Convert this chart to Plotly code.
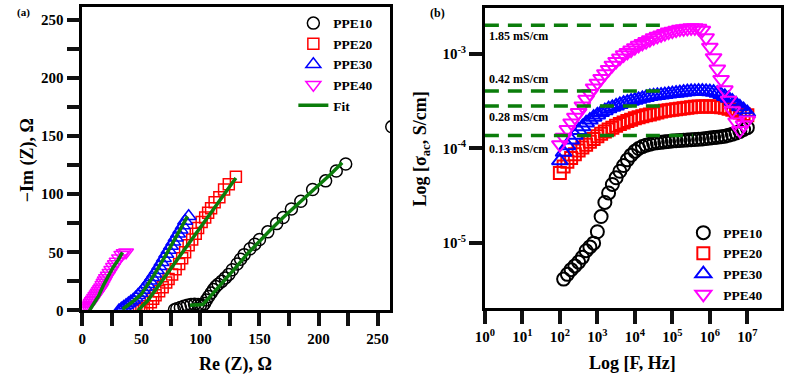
import plotly.graph_objects as go

# ---------------- Panel (a): Nyquist data (Re Z, -Im Z in ohm) ----------------
ppe10_re = [78, 80, 83, 86, 89, 92, 95, 98, 100, 102, 103.5, 105, 107, 109, 111, 113, 115, 118, 121, 124,
            127, 131, 134, 137, 142, 146, 150, 157, 164.5, 170, 177, 185, 195, 206, 215, 223, 262]
ppe10_im = [0.5, 1.5, 2.5, 3.5, 4.5, 5, 5.2, 5, 4.5, 4, 6, 9, 12, 15, 18, 20.5, 22.5, 25, 28, 31,
            35, 40, 44, 48, 53, 57, 61, 67.6, 74.7, 80, 87.3, 94, 104, 111.5, 120, 126, 158]

ppe20_re = [48, 50, 52, 55, 58, 60, 62, 65, 68, 71, 73, 76, 79, 82, 84.5, 87, 90, 93, 96, 98,
            101, 104, 106.5, 109, 112, 116, 120, 124, 130]
ppe20_im = [0, 1, 2, 3.5, 7, 10, 13, 16.5, 20, 24, 27, 31, 35.5, 40, 45, 50, 56, 61, 66, 71,
            76, 80, 84, 88, 93, 97.5, 104, 108.5, 115]

ppe30_re = [31, 33, 35, 37, 39, 41, 43, 45, 47, 49, 51, 53, 55, 57, 59, 61, 63, 65, 67, 69,
            71, 73, 75, 77, 79, 81, 83, 85, 87, 90]
ppe30_im = [0, 1.5, 3, 4.5, 6, 7.5, 9, 11, 13, 15, 17.5, 20, 22.5, 25.5, 28.5, 31.5, 34.5, 38, 41.5, 45,
            48.5, 52, 55.5, 59, 62.5, 66, 69.5, 73, 77, 81]

ppe40_re = [1, 2, 3, 4, 5, 6, 7, 8, 9, 10, 11, 12, 13, 14, 15, 16, 17, 18, 19, 20,
            21.5, 23, 24.5, 26, 27.5, 29, 31, 33, 35, 37]
ppe40_im = [0, 1, 2, 3, 4, 5, 6.5, 8, 9.5, 11, 12.5, 14, 15.5, 17, 18.5, 20, 22, 24, 26, 28,
            30, 32.5, 35, 37.5, 40, 42, 45, 48, 49.5, 50]

fit10_re = [91, 99, 102, 110, 120, 130, 140, 150, 160, 170, 180, 190, 200, 210, 220]
fit10_im = [4.5, 4.5, 5, 14, 25, 37, 49, 60, 70, 80, 89, 99, 108, 117, 127]
fit20_re = [47, 55, 65, 75, 85, 95, 106, 118, 130]
fit20_im = [0, 8, 22, 36, 51, 65, 80, 97, 114]
fit30_re = [34, 42, 50, 61, 72, 81, 89]
fit30_im = [1, 7, 14, 31, 50, 67, 81]
fit40_re = [6, 10, 14, 18, 22, 26, 30, 34]
fit40_im = [0, 6, 13, 22, 30, 37, 43, 50]

# ---------------- Panel (b): AC conductivity vs frequency ----------------
freq_hz = [100, 125.9, 158.5, 199.5, 251.2, 316.2, 398.1, 501.2, 631.0, 794.3,
           1000, 1259, 1585, 1995, 2512, 3162, 3981, 5012, 6310, 7943,
           1.0e4, 1.2589e4, 1.5849e4, 1.9953e4, 2.5119e4, 3.1623e4, 3.9811e4, 5.0119e4, 6.3096e4, 7.9433e4,
           1.0e5, 1.259e5, 1.585e5, 1.995e5, 2.512e5, 3.162e5, 3.981e5, 5.012e5, 6.310e5, 7.943e5,
           1.0e6, 1.259e6, 1.585e6, 1.995e6, 2.512e6, 3.162e6, 3.981e6, 5.012e6, 6.310e6, 7.943e6, 1.0e7]

# conductivities in units of 1e-4 S/cm
sig10_e4 = [0.0417, 0.0468, 0.0525, 0.0575, 0.0631, 0.0708, 0.0832, 0.0912, 0.100,
            0.132, 0.191, 0.269, 0.339, 0.417, 0.490, 0.575, 0.661, 0.759, 0.851,
            0.933, 1.000, 1.047, 1.084, 1.109, 1.135, 1.148, 1.161, 1.175, 1.189,
            1.202, 1.208, 1.216, 1.222, 1.230, 1.237, 1.245, 1.252, 1.259, 1.274,
            1.288, 1.303, 1.318, 1.334, 1.349, 1.380, 1.413, 1.462, 1.514, 1.585, 1.660]
sig20_e4 = [0.550, 0.646, 0.724, 0.794, 0.871, 0.955, 1.023, 1.096, 1.175, 1.259,
            1.349, 1.429, 1.514, 1.585, 1.660, 1.738, 1.820, 1.884, 1.950, 2.018,
            2.089, 2.138, 2.188, 2.239, 2.291, 2.344, 2.399, 2.455, 2.512, 2.541,
            2.570, 2.600, 2.630, 2.661, 2.692, 2.723, 2.754, 2.770, 2.780, 2.786,
            2.786, 2.780, 2.754, 2.723, 2.692, 2.630, 2.570, 2.483, 2.399, 2.317, 2.239]
sig30_e4 = [0.741, 0.912, 1.072, 1.230, 1.380, 1.549, 1.698, 1.862, 1.995, 2.138,
            2.265, 2.399, 2.512, 2.630, 2.723, 2.818, 2.917, 3.020, 3.090, 3.162,
            3.236, 3.311, 3.388, 3.467, 3.548, 3.589, 3.631, 3.673, 3.715, 3.758,
            3.802, 3.846, 3.890, 3.936, 3.981, 4.000, 4.020, 4.030, 4.030, 4.020,
            3.981, 3.936, 3.846, 3.715, 3.548, 3.388, 3.162, 2.951, 2.754, 2.570, 2.399]
sig40_e4 = [1.096, 1.318, 1.585, 1.862, 2.138, 2.399, 2.818, 3.311, 3.802, 4.365,
            4.898, 5.495, 6.166, 6.839, 7.586, 8.318, 9.016, 9.772, 10.35, 10.96,
            11.61, 12.30, 12.88, 13.49, 14.13, 14.79, 15.31, 15.85, 16.41, 16.98,
            17.38, 17.78, 18.20, 18.41, 18.62, 18.84, 18.84, 18.62, 17.78, 14.79,
            11.75, 9.12, 6.918, 5.370, 4.169, 3.236, 2.512, 1.905, 1.549, 1.778, 1.995]

# reference conductivity levels (S/cm), labels and where their dashed guide ends (Hz)
level_vals = [2.0e-3, 4.05e-4, 2.82e-4, 1.37e-4]
level_ends = [6.8e4, 6.5e4, 6.6e4, 3.5e5]
level_labels = ["1.85 mS/cm", "0.42 mS/cm", "0.28 mS/cm", "0.13 mS/cm"]
level_label_logy = [-2.81, -3.269, -3.665, -4.006]

x_tick_exp = [0, 1, 2, 3, 4, 5, 6, 7]
x_tick_text = ["10<sup>%d</sup>" % i for i in x_tick_exp]
y_tick_exp = [-5, -4, -3]
y_tick_text = ["10<sup>%d</sup>" % i for i in y_tick_exp]

FONT = "Liberation Serif"
GREEN = "#0b7d0b"
names = ["PPE10", "PPE20", "PPE30", "PPE40"]
colors = ["black", "red", "blue", "magenta"]
symbols = ["circle-open", "square-open", "triangle-up-open", "triangle-down-open"]
sizes_a = [12, 11, 13, 13]
sizes_b = [13, 12, 14, 14]

# layout geometry (px in the 787x385 canvas)
W, H = 787, 385
A_L, A_R, A_T, A_B = 73.3, 385, 7.3, 317
B_L, B_R, B_T, B_B = 481, 781, 8.3, 315
TICK = 13

fig = go.Figure()

# ---- panel (a)
for re_, im_, n, c, s, sz in zip([ppe10_re, ppe20_re, ppe30_re, ppe40_re],
                                 [ppe10_im, ppe20_im, ppe30_im, ppe40_im],
                                 names, colors, symbols, sizes_a):
    fig.add_trace(go.Scatter(x=re_, y=im_, mode="markers", name=n, legend="legend",
                             marker=dict(symbol=s, size=sz, color=c, line=dict(width=1.5, color=c)),
                             xaxis="x", yaxis="y"))
for i, (fx, fy) in enumerate([(fit10_re, fit10_im), (fit20_re, fit20_im),
                              (fit30_re, fit30_im), (fit40_re, fit40_im)]):
    fig.add_trace(go.Scatter(x=fx, y=fy, mode="lines", name="Fit", legend="legend",
                             showlegend=(i == 0), line=dict(color=GREEN, width=3.5),
                             xaxis="x", yaxis="y"))

# ---- panel (b)
for sig, n, c, s, sz in zip([sig10_e4, sig20_e4, sig30_e4, sig40_e4], names, colors, symbols, sizes_b):
    fx = freq_hz[1:] if n == "PPE10" else freq_hz
    fig.add_trace(go.Scatter(x=fx, y=[v * 1e-4 for v in sig], mode="markers", name=n, legend="legend2",
                             marker=dict(symbol=s, size=sz, color=c, line=dict(width=2, color=c)),
                             xaxis="x2", yaxis="y2"))
for lv, le in zip(level_vals, level_ends):
    fig.add_trace(go.Scatter(x=[1, le], y=[lv, lv], mode="lines", showlegend=False,
                             line=dict(color=GREEN, width=3.5, dash="14px,9px"),
                             xaxis="x2", yaxis="y2"))

tickfont = dict(family=FONT, size=15, color="black", weight="bold")
axis_common = dict(showline=True, mirror=True, linewidth=2.5, linecolor="black",
                   showgrid=False, zeroline=False, tickfont=tickfont,
                   ticks="outside", ticklen=TICK, tickwidth=4, tickcolor="#111111")
minor_a = dict(dtick=25, ticks="outside", ticklen=TICK, tickwidth=4, tickcolor="#111111")

annotations = []
for t, ly in zip(level_labels, level_label_logy):
    annotations.append(dict(text=t, x=0.05, y=ly, xref="x2", yref="y2", showarrow=False,
                            xanchor="left", yanchor="middle",
                            font=dict(family=FONT, size=12, color="black", weight="bold")))
title_font = dict(family=FONT, size=18, color="black", weight="bold")
annotations += [
    dict(text="Re (Z), Ω", x=228 / W, y=1 - 372 / H, xref="paper", yref="paper",
         showarrow=False, xanchor="center", yanchor="middle", font=title_font),
    dict(text="−Im (Z), Ω", x=18 / W, y=1 - 164 / H, xref="paper", yref="paper",
         showarrow=False, xanchor="center", yanchor="middle", textangle=-90, font=title_font),
    dict(text="Log [F, Hz]", x=631 / W, y=1 - 371 / H, xref="paper", yref="paper",
         showarrow=False, xanchor="center", yanchor="middle", font=title_font),
    dict(text="Log [σ<sub>ac</sub>, S/cm]", x=417 / W, y=1 - 152 / H, xref="paper", yref="paper",
         showarrow=False, xanchor="center", yanchor="middle", textangle=-90, font=title_font),
    dict(text="(a)", x=5 / W, y=1 - 13 / H, xref="paper", yref="paper", showarrow=False,
         xanchor="left", yanchor="middle", font=dict(family=FONT, size=11, color="black", weight="bold")),
    dict(text="(b)", x=423 / W, y=1 - 13 / H, xref="paper", yref="paper", showarrow=False,
         xanchor="left", yanchor="middle", font=dict(family=FONT, size=12, color="black", weight="bold")),
]

legend_font = dict(family=FONT, size=13.5, color="black", weight="bold")
fig.update_layout(
    width=W, height=H, autosize=False,
    margin=dict(l=0, r=0, t=0, b=0),
    paper_bgcolor="white", plot_bgcolor="white",
    xaxis=dict(domain=[A_L / W, A_R / W], range=[0, 260.6], anchor="y",
               tick0=0, dtick=50, minor=minor_a, **axis_common),
    yaxis=dict(domain=[1 - A_B / H, 1 - A_T / H], range=[0, 261], anchor="x",
               tick0=0, dtick=50, minor=minor_a, **axis_common),
    xaxis2=dict(domain=[B_L / W, B_R / W], type="log", range=[0, 7.9], anchor="y2",
                tickvals=[10 ** e for e in x_tick_exp], ticktext=x_tick_text, **axis_common),
    yaxis2=dict(domain=[1 - B_B / H, 1 - B_T / H], type="log", range=[-5.69, -2.517], anchor="x2",
                tickvals=[10 ** e for e in y_tick_exp], ticktext=y_tick_text, **axis_common),
    legend=dict(x=287 / W, y=1 - 8 / H, xanchor="left", yanchor="top",
                bgcolor="rgba(0,0,0,0)", font=legend_font, itemsizing="trace"),
    legend2=dict(x=682 / W, y=1 - 222 / H, xanchor="left", yanchor="top",
                 bgcolor="rgba(0,0,0,0)", font=legend_font, itemsizing="trace"),
    annotations=annotations,
)

fig.write_html("out.html", post_script="document.body.style.margin='0px';")
